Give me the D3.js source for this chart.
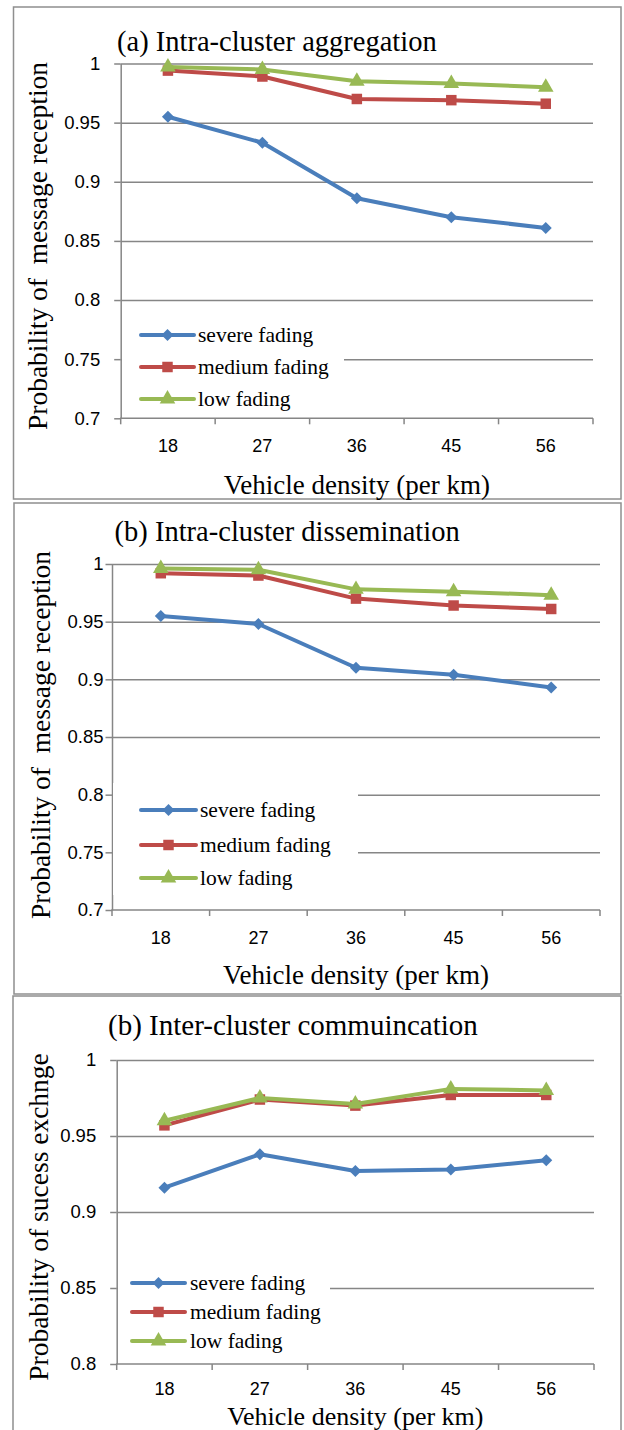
<!DOCTYPE html>
<html>
<head>
<meta charset="utf-8">
<script src="https://cdn.jsdelivr.net/npm/d3@7"></script>
<style>
  body { margin: 0; background: #fff; }
  svg { display: block; }
</style>
</head>
<body>
<div id="chart"></div>
<script>
// categories on the x axis (vehicle density per km)
var categories = ["18", "27", "36", "45", "56"];
var seriesNames = ["severe fading", "medium fading", "low fading"];

// (a) intra-cluster aggregation
var aggSevere = [0.955, 0.933, 0.886, 0.870, 0.861];
var aggMedium = [0.994, 0.989, 0.970, 0.969, 0.966];
var aggLow = [0.997, 0.995, 0.985, 0.983, 0.980];

// (b) intra-cluster dissemination
var disSevere = [0.955, 0.948, 0.910, 0.904, 0.893];
var disMedium = [0.992, 0.990, 0.970, 0.964, 0.961];
var disLow = [0.996, 0.995, 0.978, 0.976, 0.973];

// (b) inter-cluster communication
var intSevere = [0.916, 0.938, 0.927, 0.928, 0.934];
var intMedium = [0.957, 0.974, 0.970, 0.977, 0.977];
var intLow = [0.960, 0.975, 0.971, 0.981, 0.980];

// y tick values
var ticksFull = [0.7, 0.75, 0.8, 0.85, 0.9, 0.95, 1];
var ticksShort = [0.8, 0.85, 0.9, 0.95, 1];

var colors = ["#4a7ebb", "#be4b48", "#98b954"];
var serif = "'Liberation Serif', 'Times New Roman', serif";
var sans = "'Liberation Sans', Arial, sans-serif";
var axisGray = "#868686";

var w = 624;
var h = 1430;

var svg = d3.select("#chart").append("svg")
  .attr("width", w)
  .attr("height", h);

svg.append("rect")
  .attr("width", w)
  .attr("height", h)
  .attr("fill", "#fff");

// marker paths
var markerPath = [
  d3.symbol().type(d3.symbolSquare).size(72),   // diamond (rotated)
  d3.symbol().type(d3.symbolSquare).size(110),
  d3.symbol().type(d3.symbolTriangle).size(105)
];
var markerRotate = [45, 0, 0];

function drawMarker(g, i, x, y) {
  g.append("path")
    .attr("d", markerPath[i]())
    .attr("fill", colors[i])
    .attr("transform", "translate(" + x + "," + y + ") rotate(" + markerRotate[i] + ")");
}

function drawPanel(p) {
  var g = svg.append("g");

  // panel frame
  g.append("rect")
    .attr("x", p.frame[0])
    .attr("y", p.frame[1])
    .attr("width", p.frame[2])
    .attr("height", p.frame[3])
    .attr("fill", "none")
    .attr("stroke", "#8f8f8f")
    .attr("stroke-width", 1.5);

  var xScale = d3.scaleBand()
    .domain(categories)
    .range([p.left, p.right])
    .padding(0);

  var yScale = d3.scaleLinear()
    .domain([p.ticks[0], 1])
    .range([p.bottom, p.top]);

  // gridlines
  g.append("g")
    .attr("transform", "translate(" + p.left + ",0)")
    .call(d3.axisLeft(yScale).tickValues(p.ticks.slice(1)).tickSize(-(p.right - p.left)).tickFormat(""))
    .call(function(s) {
      s.select(".domain").remove();
      s.selectAll("line").attr("stroke", axisGray).attr("stroke-width", 1.5);
    });

  // y axis with outside ticks
  g.append("g")
    .attr("transform", "translate(" + p.left + ",0)")
    .call(d3.axisLeft(yScale).tickValues(p.ticks).tickSize(6.5).tickSizeOuter(0).tickPadding(p.labelPad)
      .tickFormat(function(d) { return String(+d.toFixed(2)); }))
    .call(function(s) {
      s.select(".domain").attr("stroke", axisGray).attr("stroke-width", 1.5);
      s.selectAll("line").attr("stroke", axisGray).attr("stroke-width", 1.5);
      s.selectAll("text").attr("font-family", sans).attr("font-size", 18.5).attr("fill", "#000");
    });

  // legend box hides the gridlines behind it
  g.append("rect")
    .attr("x", p.legend.box[0])
    .attr("y", p.legend.box[1])
    .attr("width", p.legend.box[2])
    .attr("height", p.legend.box[3])
    .attr("fill", "#fff");

  // x axis: ticks between categories
  var xAxisG = g.append("g")
    .attr("transform", "translate(0," + p.bottom + ")");
  xAxisG.append("line")
    .attr("x1", p.left - 0.75).attr("x2", p.right)
    .attr("stroke", axisGray).attr("stroke-width", 1.5);
  var edges = categories.map(function(c) { return xScale(c); }).concat([p.right]);
  xAxisG.selectAll(".xtick")
    .data(edges)
    .enter()
    .append("line")
    .attr("class", "xtick")
    .attr("x1", function(d) { return d; })
    .attr("x2", function(d) { return d; })
    .attr("y1", 0)
    .attr("y2", 6)
    .attr("stroke", axisGray)
    .attr("stroke-width", 1.5);

  g.selectAll(".xlabel")
    .data(categories)
    .enter()
    .append("text")
    .attr("x", function(d) { return xScale(d) + xScale.bandwidth() / 2; })
    .attr("y", p.xTickY)
    .attr("dy", "0.35em")
    .attr("text-anchor", "middle")
    .attr("font-family", sans)
    .attr("font-size", 18)
    .text(function(d) { return d; });

  // lines and markers
  var line = d3.line()
    .x(function(d, i) { return xScale(categories[i]) + xScale.bandwidth() / 2; })
    .y(function(d) { return yScale(d); });

  p.series.forEach(function(values, i) {
    g.append("path")
      .datum(values)
      .attr("fill", "none")
      .attr("stroke", colors[i])
      .attr("stroke-width", 4)
      .attr("stroke-linejoin", "round")
      .attr("d", line);
    values.forEach(function(v, j) {
      drawMarker(g, i, xScale(categories[j]) + xScale.bandwidth() / 2, yScale(v));
    });
  });

  // legend
  seriesNames.forEach(function(name, i) {
    var y = p.legend.rows[i];
    g.append("line")
      .attr("x1", p.legend.lineX[0])
      .attr("x2", p.legend.lineX[1])
      .attr("y1", y)
      .attr("y2", y)
      .attr("stroke", colors[i])
      .attr("stroke-width", 4)
      .attr("stroke-linecap", "round");
    drawMarker(g, i, (p.legend.lineX[0] + p.legend.lineX[1]) / 2, y);
    g.append("text")
      .attr("x", p.legend.textX)
      .attr("y", y)
      .attr("dy", "0.33em")
      .attr("font-family", serif)
      .attr("font-size", 21.5)
      .text(name);
  });

  // titles
  g.append("text")
    .attr("x", p.title.x)
    .attr("y", p.title.y)
    .attr("font-family", serif)
    .attr("font-size", p.title.size)
    .text(p.title.text);

  g.append("text")
    .attr("transform", "translate(" + p.yTitle.x + "," + p.yTitle.y + ") rotate(-90)")
    .attr("text-anchor", "middle")
    .attr("dy", "0.33em")
    .attr("font-family", serif)
    .attr("font-size", 27.5)
    .style("white-space", "pre")
    .text(p.yTitle.text);

  g.append("text")
    .attr("x", (p.left + p.right) / 2)
    .attr("y", p.xTitleY)
    .attr("dy", "0.33em")
    .attr("text-anchor", "middle")
    .attr("font-family", serif)
    .attr("font-size", p.xTitleSize)
    .text("Vehicle density (per km)");
}

drawPanel({
  frame: [13.5, 7, 607.5, 492],
  left: 120.7, right: 593, top: 63.5, bottom: 418.3,
  ticks: ticksFull,
  labelPad: 14,
  series: [aggSevere, aggMedium, aggLow],
  title: { x: 117, y: 51, size: 28.5, text: "(a) Intra-cluster aggregation" },
  yTitle: { x: 38, y: 246, text: "Probability of  message reception" },
  xTickY: 446, xTitleY: 485, xTitleSize: 27,
  legend: { box: [122, 318, 222, 94], lineX: [141, 194], textX: 198, rows: [335, 367, 399] }
});

drawPanel({
  frame: [14, 503, 607, 491],
  left: 112, right: 600, top: 564, bottom: 910,
  ticks: ticksFull,
  labelPad: 2,
  series: [disSevere, disMedium, disLow],
  title: { x: 114.6, y: 541, size: 28.5, text: "(b) Intra-cluster dissemination" },
  yTitle: { x: 41, y: 735, text: "Probability of  message reception" },
  xTickY: 938, xTitleY: 975, xTitleSize: 27,
  legend: { box: [113, 783, 245, 112], lineX: [141, 196], textX: 200, rows: [810, 845, 878] }
});

drawPanel({
  frame: [13, 996, 608, 450],
  left: 116.7, right: 594, top: 1060, bottom: 1364,
  ticks: ticksShort,
  labelPad: 14,
  series: [intSevere, intMedium, intLow],
  title: { x: 108, y: 1035, size: 29, text: "(b) Inter-cluster commuincation" },
  yTitle: { x: 38.5, y: 1217, text: "Probability of sucess exchnge" },
  xTickY: 1389, xTitleY: 1416, xTitleSize: 26,
  legend: { box: [118, 1268, 212, 86], lineX: [132, 185], textX: 190, rows: [1283, 1312, 1341] }
});
</script>
</body>
</html>
